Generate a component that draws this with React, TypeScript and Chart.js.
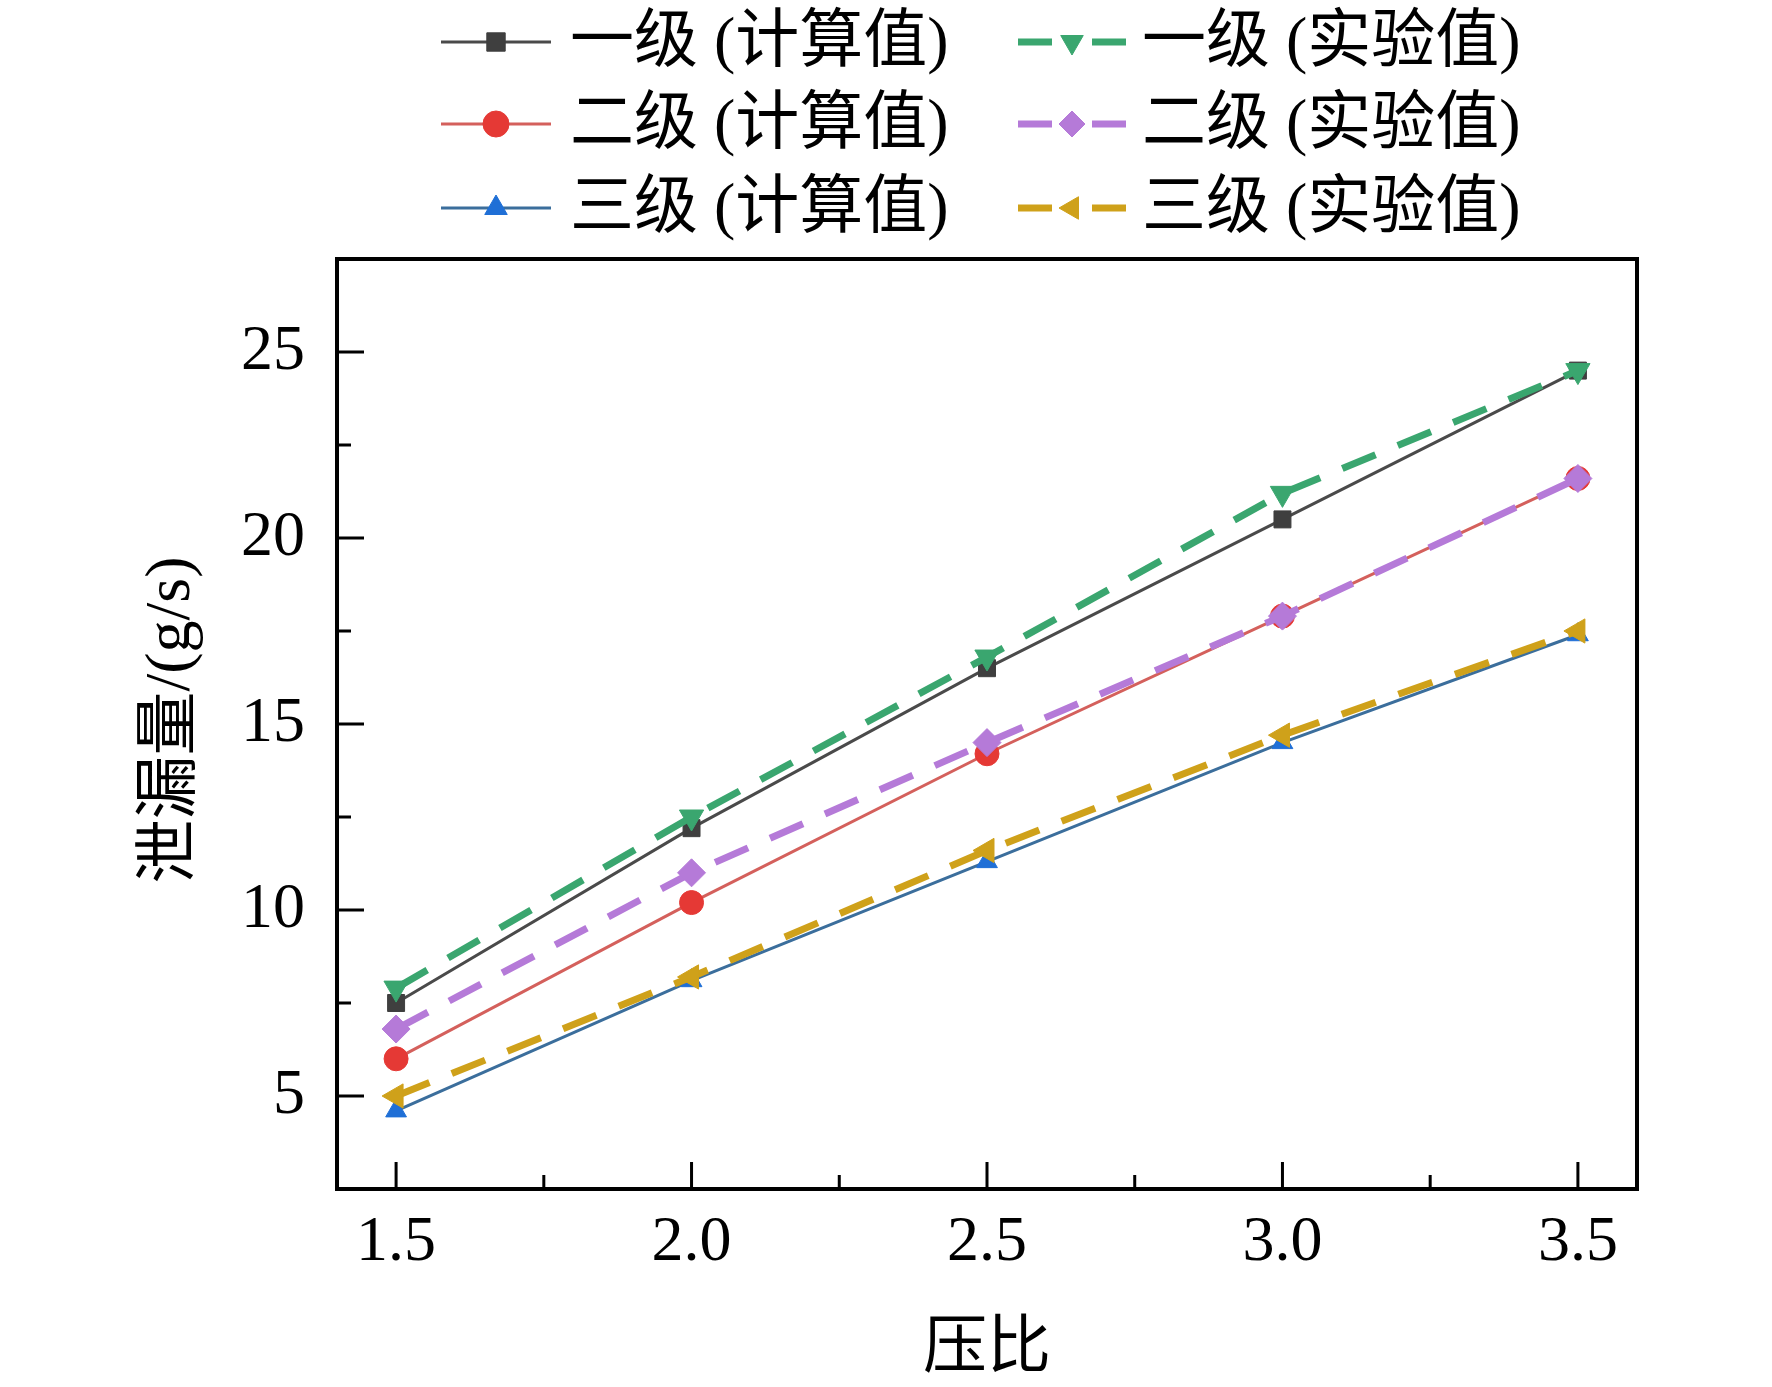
import React, { useEffect, useRef } from "react";
import { Chart, registerables } from "chart.js";
import { drawPoint } from "chart.js/helpers";

Chart.register(...registerables);

const pressureRatios = [1.5, 2.0, 2.5, 3.0, 3.5];

const stage1Calc = [7.5, 12.2, 16.5, 20.5, 24.5];
const stage1Exp = [7.9, 12.5, 16.8, 21.2, 24.5];
const stage2Calc = [6.0, 10.2, 14.2, 17.9, 21.6];
const stage2Exp = [6.8, 11.0, 14.5, 17.9, 21.6];
const stage3Calc = [4.6, 8.1, 11.3, 14.5, 17.4];
const stage3Exp = [5.0, 8.2, 11.6, 14.7, 17.5];

const xTicks = [1.5, 2.0, 2.5, 3.0, 3.5];
const xMinorTicks = [1.75, 2.25, 2.75, 3.25];
const yTicks = [5, 10, 15, 20, 25];
const yMinorTicks = [7.5, 12.5, 17.5, 22.5];

const SERIF = "'Liberation Serif', 'Times New Roman', 'Noto Sans CJK SC', serif";

const toPoints = (ys: number[]) => pressureRatios.map((x, i) => ({ x, y: ys[i] }));

// legend in two columns: computed (left) and experimental (right)
const legendPlugin = {
  id: "twoColLegend",
  afterDraw(chart: any) {
    const ctx = chart.ctx;
    const cols = [
      { lineFrom: 441, lineTo: 551, textX: 570 },
      { lineFrom: 1018, lineTo: 1126, textX: 1142 },
    ];
    const rows = [42, 124, 208];
    chart.data.datasets.forEach((ds: any, i: number) => {
      const col = cols[i % 2];
      const y = rows[Math.floor(i / 2)];
      ctx.save();
      ctx.strokeStyle = ds.borderColor;
      ctx.lineWidth = ds.borderWidth;
      ctx.setLineDash(ds.borderDash ? [34, 40] : []);
      ctx.beginPath();
      ctx.moveTo(col.lineFrom, y);
      ctx.lineTo(col.lineTo, y);
      ctx.stroke();
      ctx.setLineDash([]);
      ctx.fillStyle = ds.pointBackgroundColor;
      ctx.strokeStyle = ds.pointBorderColor;
      ctx.lineWidth = 1;
      drawPoint(ctx, {
        pointStyle: ds.pointStyle,
        radius: 13,
        rotation: ds.pointRotation || 0,
        borderWidth: 1,
      }, (col.lineFrom + col.lineTo) / 2, y);
      ctx.fillStyle = "#000";
      ctx.font = `64px ${SERIF}`;
      ctx.textBaseline = "middle";
      ctx.textAlign = "left";
      ctx.fillText(ds.label, col.textX, y + 2);
      ctx.restore();
    });
  },
};

// frame, inward ticks and axis titles
const framePlugin = {
  id: "frame",
  afterDraw(chart: any) {
    const ctx = chart.ctx;
    const { left, right, top, bottom } = chart.chartArea;
    const xs = chart.scales.x;
    const ys = chart.scales.y;
    ctx.save();
    ctx.strokeStyle = "#000";
    ctx.lineWidth = 4;
    ctx.strokeRect(left, top, right - left, bottom - top);
    ctx.lineWidth = 3;
    ctx.beginPath();
    xTicks.forEach((v) => {
      const px = xs.getPixelForValue(v);
      ctx.moveTo(px, bottom);
      ctx.lineTo(px, bottom - 27);
    });
    xMinorTicks.forEach((v) => {
      const px = xs.getPixelForValue(v);
      ctx.moveTo(px, bottom);
      ctx.lineTo(px, bottom - 14);
    });
    yTicks.forEach((v) => {
      const py = ys.getPixelForValue(v);
      ctx.moveTo(left, py);
      ctx.lineTo(left + 27, py);
    });
    yMinorTicks.forEach((v) => {
      const py = ys.getPixelForValue(v);
      ctx.moveTo(left, py);
      ctx.lineTo(left + 14, py);
    });
    ctx.stroke();

    ctx.fillStyle = "#000";
    ctx.font = `64px ${SERIF}`;
    ctx.textAlign = "center";
    ctx.textBaseline = "middle";
    ctx.fillText("压比", (left + right) / 2, 1350);
    ctx.translate(172, (top + bottom) / 2 - 4);
    ctx.rotate(-Math.PI / 2);
    ctx.fillText("泄漏量/(g/s)", 0, 0);
    ctx.restore();
  },
};

const App: React.FC = () => {
  const canvasRef = useRef<HTMLCanvasElement>(null);
  const chartRef = useRef<Chart | null>(null);

  useEffect(() => {
    document.body.style.margin = "0";
    if (!canvasRef.current) return;
    if (chartRef.current) chartRef.current.destroy();

    const solid = (label: string, ys: number[], line: string, fill: string, style: string, rot = 0) => ({
      label,
      data: toPoints(ys),
      borderColor: line,
      borderWidth: 3,
      pointStyle: style,
      pointRotation: rot,
      pointRadius: 12,
      pointBackgroundColor: fill,
      pointBorderColor: fill,
      pointBorderWidth: 1,
      order: 2,
    });
    const dashed = (label: string, ys: number[], color: string, style: string, rot = 0) => ({
      label,
      data: toPoints(ys),
      borderColor: color,
      borderWidth: 7,
      borderDash: [36, 24],
      pointStyle: style,
      pointRotation: rot,
      pointRadius: 14,
      pointBackgroundColor: color,
      pointBorderColor: color,
      pointBorderWidth: 1,
      order: 1,
    });

    chartRef.current = new Chart(canvasRef.current, {
      type: "line",
      data: {
        datasets: [
          solid("一级 (计算值)", stage1Calc, "#4a4a4a", "#3f3f3f", "rect"),
          dashed("一级 (实验值)", stage1Exp, "#3aa66f", "triangle", 180),
          solid("二级 (计算值)", stage2Calc, "#d4605c", "#e53935", "circle"),
          dashed("二级 (实验值)", stage2Exp, "#b57ad8", "rectRot"),
          solid("三级 (计算值)", stage3Calc, "#3b6e9c", "#1f6fd6", "triangle"),
          dashed("三级 (实验值)", stage3Exp, "#cfa11a", "triangle", -90),
        ] as any,
      },
      options: {
        animation: false,
        responsive: true,
        maintainAspectRatio: false,
        layout: { padding: { top: 259, right: 135, left: 0, bottom: 0 } },
        plugins: {
          legend: { display: false },
          tooltip: { enabled: false },
        },
        scales: {
          x: {
            type: "linear",
            min: 1.4,
            max: 3.6,
            afterBuildTicks: (s: any) => {
              s.ticks = xTicks.map((value) => ({ value }));
            },
            afterFit: (s: any) => {
              s.height = 198;
            },
            grid: { display: false },
            border: { display: false },
            ticks: {
              color: "#000",
              font: { family: SERIF, size: 64 },
              padding: 8,
              maxRotation: 0,
              callback: (v: any) => Number(v).toFixed(1),
            },
          },
          y: {
            type: "linear",
            min: 2.5,
            max: 27.5,
            afterBuildTicks: (s: any) => {
              s.ticks = yTicks.map((value) => ({ value }));
            },
            afterFit: (s: any) => {
              s.width = 337;
            },
            grid: { display: false },
            border: { display: false },
            ticks: {
              color: "#000",
              font: { family: SERIF, size: 64 },
              padding: 24,
            },
          },
        },
      },
      plugins: [legendPlugin, framePlugin],
    });

    return () => {
      if (chartRef.current) {
        chartRef.current.destroy();
        chartRef.current = null;
      }
    };
  }, []);

  return (
    <div style={{ width: 1772, height: 1387, background: "#fff" }}>
      <canvas ref={canvasRef} />
    </div>
  );
};

export default App;
